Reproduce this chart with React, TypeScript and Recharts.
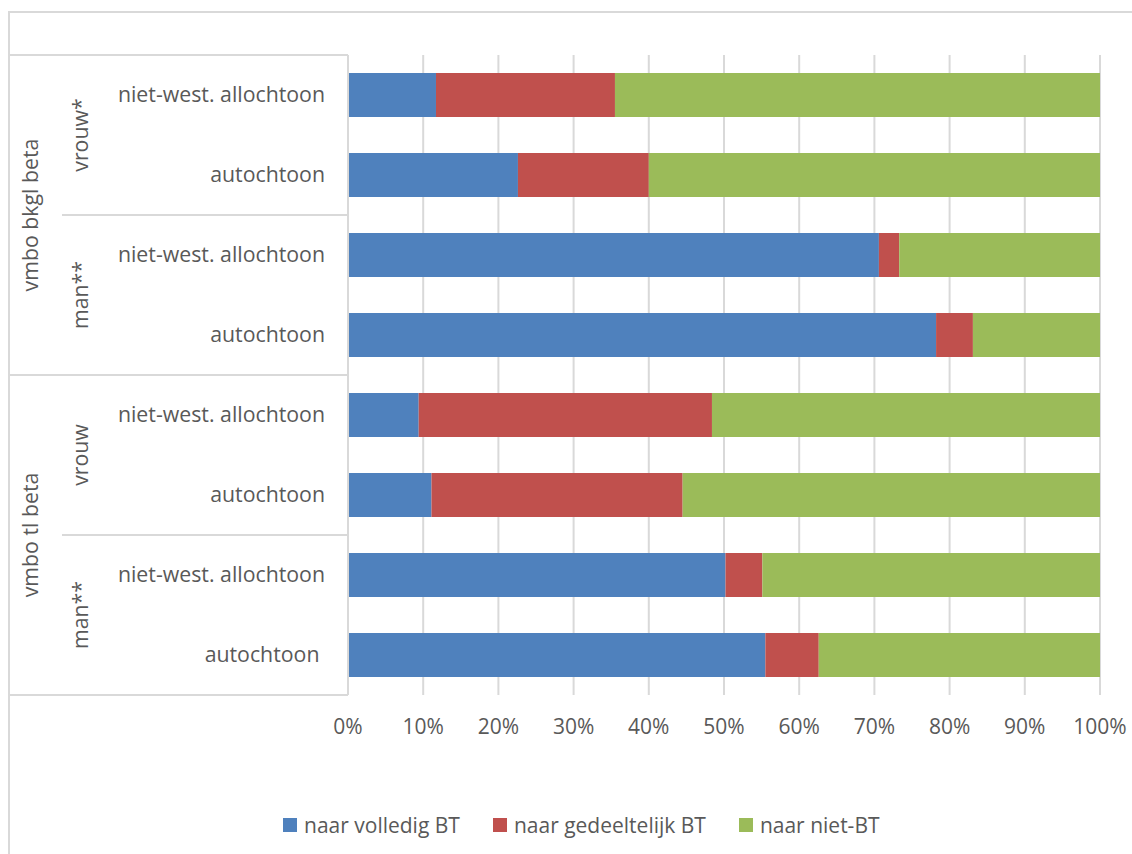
import React from 'react';
import { BarChart, Bar, XAxis, YAxis, CartesianGrid, Legend } from 'recharts';

// Row categories (top to bottom) and their two grouping levels
const rowLabels = [
  'niet-west. allochtoon',
  'autochtoon',
  'niet-west. allochtoon',
  'autochtoon',
  'niet-west. allochtoon',
  'autochtoon',
  'niet-west. allochtoon',
  'autochtoon ',
];
const genderLabels = ['vrouw*', 'man**', 'vrouw', 'man**'];
const trackLabels = ['vmbo bkgl beta', 'vmbo tl beta'];

// Share of pupils per destination (percent)
const seriesNames = ['naar volledig BT', 'naar gedeeltelijk BT', 'naar niet-BT'];
const volledig = [11.7, 22.6, 70.6, 78.2, 9.4, 11.1, 50.2, 55.5];
const gedeeltelijk = [23.8, 17.4, 2.7, 4.9, 39.0, 33.4, 4.9, 7.1];
const nietBT = [64.5, 60.0, 26.7, 16.9, 51.6, 55.5, 44.9, 37.4];

const xTicks = [0, 10, 20, 30, 40, 50, 60, 70, 80, 90, 100];

const COLORS = ['#4F81BD', '#C0504D', '#9BBB59'];
const TEXT = '#595959';
const LINE = '#d9d9d9';
const FONT = '"Open Sans", sans-serif';

const WIDTH = 1132;
const HEIGHT = 854;
const MARGIN = { top: 55, right: 32, bottom: 119, left: 0 };
const AXIS_X = 348; // y-axis width
const X_AXIS_H = 40;
const FRAME_X = 9;
const SUB_X = 62;
const GENDER_X = 81;
const TRACK_X = 31;
const LABEL_GAP = 23;

const rowsPerGender = rowLabels.length / genderLabels.length;
const rowsPerTrack = rowLabels.length / trackLabels.length;

const data = rowLabels.map((label, i) => ({
  row: i,
  label,
  volledig: volledig[i],
  gedeeltelijk: gedeeltelijk[i],
  nietBT: nietBT[i],
}));

function CategoryTick(props: any) {
  const { x, y, payload } = props;
  const i = Number(payload.value);
  const plotH = typeof props.height === 'number' && props.height > 0
    ? props.height
    : HEIGHT - MARGIN.top - MARGIN.bottom - X_AXIS_H;
  const band = plotH / rowLabels.length;
  const textStyle = { fontFamily: FONT, fontSize: 21.3, fill: TEXT } as const;

  const parts: React.ReactNode[] = [];

  if (i === 0) {
    parts.push(
      <line key="top" x1={FRAME_X} x2={AXIS_X} y1={y - band / 2} y2={y - band / 2} stroke={LINE} strokeWidth={2} />
    );
  }
  const next = i + 1;
  if (next % rowsPerTrack === 0) {
    parts.push(
      <line key="b" x1={FRAME_X} x2={AXIS_X} y1={y + band / 2} y2={y + band / 2} stroke={LINE} strokeWidth={2} />
    );
  } else if (next % rowsPerGender === 0) {
    parts.push(
      <line key="b" x1={SUB_X} x2={AXIS_X} y1={y + band / 2} y2={y + band / 2} stroke={LINE} strokeWidth={2} />
    );
  }

  if (i % rowsPerGender === 0) {
    const cy = y + ((rowsPerGender - 1) * band) / 2;
    parts.push(
      <text key="g" x={GENDER_X} y={cy} dy="0.35em" textAnchor="middle"
        transform={`rotate(-90, ${GENDER_X}, ${cy})`} style={textStyle}>
        {genderLabels[i / rowsPerGender]}
      </text>
    );
  }
  if (i % rowsPerTrack === 0) {
    const cy = y + ((rowsPerTrack - 1) * band) / 2;
    parts.push(
      <text key="t" x={TRACK_X} y={cy} dy="0.35em" textAnchor="middle"
        transform={`rotate(-90, ${TRACK_X}, ${cy})`} style={textStyle}>
        {trackLabels[i / rowsPerTrack]}
      </text>
    );
  }

  return (
    <g>
      {parts}
      <text x={x} y={y} dy="0.33em" textAnchor="end" style={{ ...textStyle, whiteSpace: 'pre' }}>
        {rowLabels[i]}
      </text>
    </g>
  );
}

function LegendContent(props: any) {
  const items = [...(props.payload || [])].sort(
    (a: any, b: any) => seriesNames.indexOf(a.value) - seriesNames.indexOf(b.value)
  );
  return (
    <div style={{ display: 'flex', alignItems: 'center', fontFamily: FONT, fontSize: 21, color: TEXT, whiteSpace: 'nowrap' }}>
      {items.map((it: any, k: number) => (
        <div key={k} style={{ display: 'flex', alignItems: 'center', marginRight: 33 }}>
          <span style={{ display: 'inline-block', width: 14, height: 14, background: it.color, marginRight: 7 }} />
          <span>{it.value}</span>
        </div>
      ))}
    </div>
  );
}

export default function App() {
  return (
    <div style={{ position: 'absolute', left: 0, top: 0, width: WIDTH, height: HEIGHT, overflow: 'hidden', background: '#fff' }}>
      <div style={{ position: 'absolute', left: 8, top: 11, width: WIDTH + 40, height: HEIGHT + 40, borderTop: `2px solid ${LINE}`, borderLeft: `2px solid ${LINE}` }} />
      <div style={{ position: 'absolute', left: 0, top: 0 }}>
        <BarChart
          width={WIDTH}
          height={HEIGHT}
          data={data}
          layout="vertical"
          margin={MARGIN}
          barCategoryGap="22.5%"
        >
          <CartesianGrid horizontal={false} stroke={LINE} strokeWidth={2} />
          <XAxis
            type="number"
            domain={[0, 100]}
            ticks={xTicks}
            interval={0}
            tickFormatter={(v: number) => `${v}%`}
            axisLine={false}
            tickLine={false}
            tickSize={0}
            tickMargin={24}
            height={X_AXIS_H}
            tick={{ fill: TEXT, fontSize: 21, fontFamily: FONT }}
          />
          <YAxis
            type="category"
            dataKey="row"
            width={AXIS_X}
            interval={0}
            axisLine={{ stroke: LINE, strokeWidth: 2 }}
            tickLine={false}
            tickSize={0}
            tickMargin={LABEL_GAP}
            tick={<CategoryTick />}
          />
          <Bar dataKey="volledig" name={seriesNames[0]} stackId="s" fill={COLORS[0]} isAnimationActive={false} />
          <Bar dataKey="gedeeltelijk" name={seriesNames[1]} stackId="s" fill={COLORS[1]} isAnimationActive={false} />
          <Bar dataKey="nietBT" name={seriesNames[2]} stackId="s" fill={COLORS[2]} isAnimationActive={false} />
          <Legend
            layout="horizontal"
            verticalAlign="middle"
            align="center"
            content={<LegendContent />}
            wrapperStyle={{ top: 811, left: 283, width: 'auto' }}
          />
        </BarChart>
      </div>
    </div>
  );
}
